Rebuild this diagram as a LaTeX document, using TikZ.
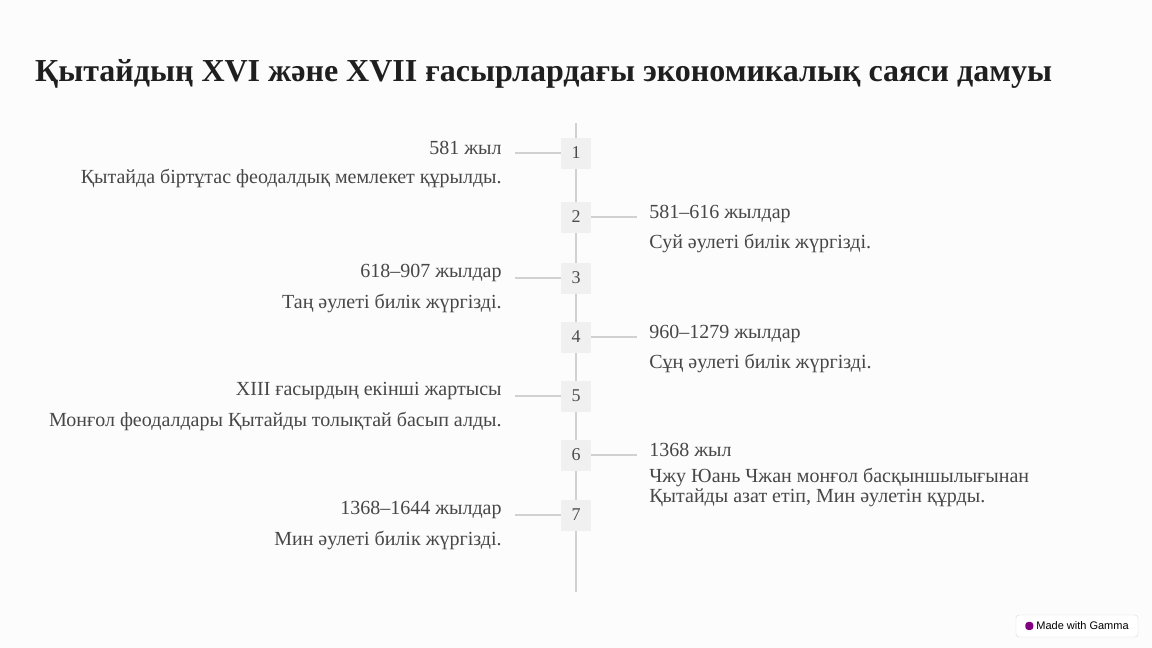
\documentclass[tikz,border=0pt]{standalone}
\usepackage{fontspec}
\setmainfont{Liberation Serif}
\newfontfamily\badgefont{Liberation Sans}
\begin{document}
\begin{tikzpicture}[x=1pt,y=-1pt,
  numbox/.style={fill=black!6,minimum width=30pt,minimum height=31pt,inner sep=0pt,font=\fontsize{18}{20}\selectfont,text=black!70},
  conn/.style={draw=black!18,line width=2.5pt},
  ltxt/.style={anchor=east,font=\fontsize{20}{22}\selectfont,text=black!72,inner sep=0pt},
  rtxt/.style={anchor=west,font=\fontsize{20}{22}\selectfont,text=black!72,inner sep=0pt,align=left}]
\fill[black!1] (0,0) rectangle (1152,648);
\useasboundingbox (0,0) rectangle (1152,648);
\node[anchor=west,inner sep=0pt,font=\bfseries\fontsize{32}{36}\selectfont,text=black!88] (title) at (35,74) {Қытайдың XVI және XVII ғасырлардағы экономикалық саяси дамуы};
\coordinate (top) at (576,123); \coordinate (bot) at (576,592);
\draw[conn] (top) -- (bot);
\foreach \i/\y in {1/153,2/217,3/278,4/337,5/396,6/455,7/515}{
  \node[numbox] (b\i) at (576,\y) {\i};
}
% left items
\foreach \i/\t/\d in {1/{581 жыл}/{Қытайда біртұтас феодалдық мемлекет құрылды.},
  3/{618–907 жылдар}/{Таң әулеті билік жүргізді.},
  5/{XIII ғасырдың екінші жартысы}/{Монғол феодалдары Қытайды толықтай басып алды.},
  7/{1368–1644 жылдар}/{Мин әулеті билік жүргізді.}}{
  \coordinate (l\i) at ([xshift=-46pt]b\i.west);
  \draw[conn] (l\i) -- (b\i.west);
  \node[ltxt] (lt\i) at ([xshift=-13pt,yshift=5pt]l\i) {\t};
  \node[ltxt] (ld\i) at ([xshift=-13pt,yshift=-25pt]l\i) {\d};
}
\foreach \i/\t/\d in {2/{581–616 жылдар}/{Суй әулеті билік жүргізді.},
  4/{960–1279 жылдар}/{Сұң әулеті билік жүргізді.}}{
  \coordinate (r\i) at ([xshift=46pt]b\i.east);
  \draw[conn] (b\i.east) -- (r\i);
  \node[rtxt] (rt\i) at ([xshift=12pt,yshift=3pt]r\i) {\t};
  \node[rtxt] (rd\i) at ([xshift=12pt,yshift=-26pt]r\i) {\d};
}
\coordinate (r6) at ([xshift=46pt]b6.east);
\draw[conn] (b6.east) -- (r6);
\node[rtxt] (rt6) at ([xshift=12pt,yshift=5pt]r6) {1368 жыл};
\node[rtxt,anchor=north west,font=\fontsize{20}{20}\selectfont] (rd6) at ([xshift=12pt,yshift=-13pt]r6) {Чжу Юань Чжан монғол басқыншылығынан\\Қытайды азат етіп, Мин әулетін құрды.};
% badge
\node[draw=black!15,fill=white,rounded corners=3pt,minimum width=122pt,minimum height=22pt,inner sep=0pt,font=\badgefont\fontsize{11}{13}\selectfont] (badge) at (1077,626) {\tikz\fill[violet] (0,0) rectangle (8pt,8pt);\ Made with Gamma};
\end{tikzpicture}
\end{document}
